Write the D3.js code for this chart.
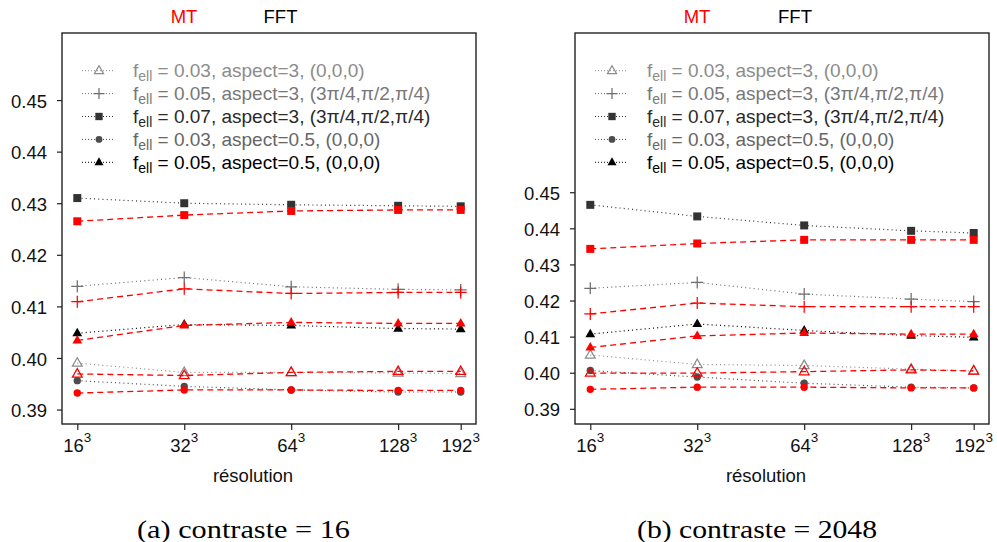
<!DOCTYPE html>
<html><head><meta charset="utf-8">
<script src="https://cdn.jsdelivr.net/npm/d3@7"></script>
<style>body{margin:0;background:#fff}svg{display:block}</style>
</head><body>
<svg id="c" width="997" height="542"></svg>
<script>
// ---------- data ----------
const resolutions = [16, 32, 64, 128, 192];
const tickLabels = ["16", "32", "64", "128", "192"];
const yTicks = [0.39, 0.40, 0.41, 0.42, 0.43, 0.44, 0.45];
const seriesKeys = ["triOpen", "plus", "square", "circle", "triFill"];
const fellValues = ["0.03", "0.05", "0.07", "0.03", "0.05"];
const aspectValues = ["3", "3", "3", "0.5", "0.5"];
const angleValues = ["(0,0,0)", "(3π/4,π/2,π/4)", "(3π/4,π/2,π/4)", "(0,0,0)", "(0,0,0)"];
const methodLabels = ["MT", "FFT"];
const captions = ["(a) contraste = 16", "(b) contraste = 2048"];
const xTitle = "résolution";

// contraste = 16
const fft16_triOpen = [0.3990, 0.3972, 0.3972, 0.3971, 0.3970];
const fft16_plus    = [0.4139, 0.4156, 0.4138, 0.4133, 0.4132];
const fft16_square  = [0.4310, 0.4300, 0.4297, 0.4295, 0.4294];
const fft16_circle  = [0.3956, 0.3945, 0.3938, 0.3934, 0.3934];
const fft16_triFill = [0.4048, 0.4065, 0.4063, 0.4057, 0.4056];
const mt16_triOpen  = [0.3969, 0.3966, 0.3972, 0.3974, 0.3974];
const mt16_plus     = [0.4109, 0.4134, 0.4125, 0.4127, 0.4127];
const mt16_square   = [0.4265, 0.4277, 0.4285, 0.4287, 0.4287];
const mt16_circle   = [0.3932, 0.3938, 0.3938, 0.3937, 0.3937];
const mt16_triFill  = [0.4034, 0.4063, 0.4069, 0.4067, 0.4067];

// contraste = 2048
const fft2048_triOpen = [0.4049, 0.4023, 0.4020, 0.4010, 0.4005];
const fft2048_plus    = [0.4234, 0.4250, 0.4218, 0.4204, 0.4197];
const fft2048_square  = [0.4465, 0.4433, 0.4408, 0.4393, 0.4387];
const fft2048_circle  = [0.4006, 0.3988, 0.3971, 0.3960, 0.3958];
const fft2048_triFill = [0.4107, 0.4135, 0.4117, 0.4103, 0.4098];
const mt2048_triOpen  = [0.3999, 0.3999, 0.4003, 0.4008, 0.4005];
const mt2048_plus     = [0.4163, 0.4193, 0.4183, 0.4183, 0.4183];
const mt2048_square   = [0.4343, 0.4358, 0.4368, 0.4368, 0.4368];
const mt2048_circle   = [0.3954, 0.3960, 0.3960, 0.3958, 0.3958];
const mt2048_triFill  = [0.4070, 0.4102, 0.4110, 0.4107, 0.4107];

// ---------- styles ----------
const fftColors = ["#8c8c8c", "#6e6e6e", "#333333", "#4d4d4d", "#000000"];
const legendTextColors = ["#8c8c8c", "#787878", "#2a2a2a", "#666666", "#000000"];
const mtColor = "#ff0000";
const FONT = "'Liberation Sans', Arial, Helvetica, sans-serif";

const panels = [
  { left: 62, right: 476, yDomain: [0.3872, 0.4630], caption: captions[0], captionX: 243.5, captionW: 213,
    xTitleX: 253, headerX: [184, 280.5], legendLineX: [82, 115], legendSymX: 99, legendTextX: 133,
    fft: [fft16_triOpen, fft16_plus, fft16_square, fft16_circle, fft16_triFill],
    mt: [mt16_triOpen, mt16_plus, mt16_square, mt16_circle, mt16_triFill] },
  { left: 575, right: 989, yDomain: [0.3858, 0.4941], caption: captions[1], captionX: 757, captionW: 240,
    xTitleX: 766, headerX: [697, 795], legendLineX: [595, 628], legendSymX: 612, legendTextX: 647,
    fft: [fft2048_triOpen, fft2048_plus, fft2048_square, fft2048_circle, fft2048_triFill],
    mt: [mt2048_triOpen, mt2048_plus, mt2048_square, mt2048_circle, mt2048_triFill] }
];
const TOP = 33, BOTTOM = 424;

const svg = d3.select("#c");

function symbolPath(type, s) {
  const p = d3.path();
  if (type === "square") { const h = 4 * s; p.rect(-h, -h, 2 * h, 2 * h); }
  else if (type === "circle") { p.arc(0, 0, 3.7 * s, 0, 2 * Math.PI); }
  else if (type === "triOpen" || type === "triFill") {
    p.moveTo(0, -5.4 * s); p.lineTo(4.9 * s, 3.1 * s); p.lineTo(-4.9 * s, 3.1 * s); p.closePath();
  } else if (type === "plus") {
    const h = 6 * s; p.moveTo(-h, 0); p.lineTo(h, 0); p.moveTo(0, -h); p.lineTo(0, h);
  }
  return p.toString();
}
function styleSymbol(sel, type, color) {
  if (type === "triOpen" || type === "plus") {
    sel.attr("fill", "none").attr("stroke", color).attr("stroke-width", 1.25);
  } else {
    sel.attr("fill", color).attr("stroke", "none");
  }
}

panels.forEach(P => {
  const x = d3.scaleLog().base(2).domain([Math.pow(2, 3.857), Math.pow(2, 7.728)]).range([P.left, P.right]);
  const y = d3.scaleLinear().domain(P.yDomain).range([BOTTOM, TOP]);
  const g = svg.append("g");

  // frame
  g.append("rect").attr("x", P.left).attr("y", TOP).attr("width", P.right - P.left).attr("height", BOTTOM - TOP)
    .attr("fill", "none").attr("stroke", "#222").attr("stroke-width", 1.4);

  // y axis
  const ya = g.append("g").attr("transform", `translate(${P.left},0)`)
    .call(d3.axisLeft(y).tickValues(yTicks).tickFormat(d3.format(".2f")).tickSize(5).tickPadding(10));
  ya.select(".domain").remove();
  ya.selectAll("line").attr("stroke", "#222").attr("stroke-width", 1.2);
  ya.selectAll("text").attr("font-family", FONT).attr("font-size", 18.5).attr("fill", "#111").attr("dy", "0.38em");

  // x axis
  const xa = g.append("g").attr("transform", `translate(0,${BOTTOM})`)
    .call(d3.axisBottom(x).tickValues(resolutions).tickFormat("").tickSize(6));
  xa.select(".domain").remove();
  xa.selectAll("line").attr("stroke", "#222").attr("stroke-width", 1.2);
  resolutions.forEach((r, i) => {
    const t = g.append("text").attr("x", x(r) + 0).attr("y", 451.5).attr("text-anchor", "middle")
      .attr("font-family", FONT).attr("font-size", 18.5).attr("fill", "#111");
    t.append("tspan").text(tickLabels[i]);
    t.append("tspan").attr("font-size", 13.5).attr("dy", -10).text("3");
  });

  g.append("text").attr("x", P.xTitleX).attr("y", 481.5).attr("text-anchor", "middle")
    .attr("font-family", FONT).attr("font-size", 18.5).attr("fill", "#111").text(xTitle);

  g.append("text").attr("x", P.captionX).attr("y", 537.5).attr("text-anchor", "middle")
    .attr("font-family", "'Liberation Serif', 'Times New Roman', serif").attr("font-size", 25).attr("fill", "#000")
    .attr("textLength", P.captionW).attr("lengthAdjust", "spacingAndGlyphs")
    .text(P.caption);

  // headers
  g.append("text").attr("x", P.headerX[0]).attr("y", 23.3).attr("text-anchor", "middle")
    .attr("font-family", FONT).attr("font-size", 18.5).attr("fill", mtColor).text(methodLabels[0]);
  g.append("text").attr("x", P.headerX[1]).attr("y", 23.3).attr("text-anchor", "middle")
    .attr("font-family", FONT).attr("font-size", 18.5).attr("fill", "#000").text(methodLabels[1]);

  // legend
  seriesKeys.forEach((k, i) => {
    const cy = 70.7 + i * 22.9;
    g.append("line").attr("x1", P.legendLineX[0]).attr("x2", P.legendLineX[1]).attr("y1", cy).attr("y2", cy)
      .attr("stroke", fftColors[i]).attr("stroke-width", 1).attr("stroke-dasharray", "1,2");
    g.append("path").attr("d", symbolPath(k, 0.92)).attr("transform", `translate(${P.legendSymX},${cy})`)
      .call(styleSymbol, k, fftColors[i]);
    const t = g.append("text").attr("x", P.legendTextX).attr("y", cy + 6.7)
      .attr("font-family", FONT).attr("font-size", 19).attr("fill", legendTextColors[i]);
    t.append("tspan").text("f");
    t.append("tspan").attr("font-size", 14).attr("dy", 4).text("ell");
    t.append("tspan").attr("dy", -4).text(` = ${fellValues[i]}, aspect=${aspectValues[i]}, ${angleValues[i]}`);
  });

  const line = d3.line().x((d, i) => x(resolutions[i])).y(d => y(d));

  // FFT series (dotted)
  seriesKeys.forEach((k, i) => {
    g.append("path").attr("d", line(P.fft[i])).attr("fill", "none").attr("stroke", fftColors[i])
      .attr("stroke-width", 1.2).attr("stroke-dasharray", "1,3.2");
    g.selectAll(null).data(P.fft[i]).enter().append("path")
      .attr("d", symbolPath(k, 1))
      .attr("transform", (d, j) => `translate(${x(resolutions[j])},${y(d)})`)
      .call(styleSymbol, k, fftColors[i]);
  });
  // MT series (dashed red)
  seriesKeys.forEach((k, i) => {
    g.append("path").attr("d", line(P.mt[i])).attr("fill", "none").attr("stroke", mtColor)
      .attr("stroke-width", 1.3).attr("stroke-dasharray", "6,4");
    g.selectAll(null).data(P.mt[i]).enter().append("path")
      .attr("d", symbolPath(k, 1))
      .attr("transform", (d, j) => `translate(${x(resolutions[j])},${y(d)})`)
      .call(styleSymbol, k, mtColor);
  });
});
</script>
</body></html>
